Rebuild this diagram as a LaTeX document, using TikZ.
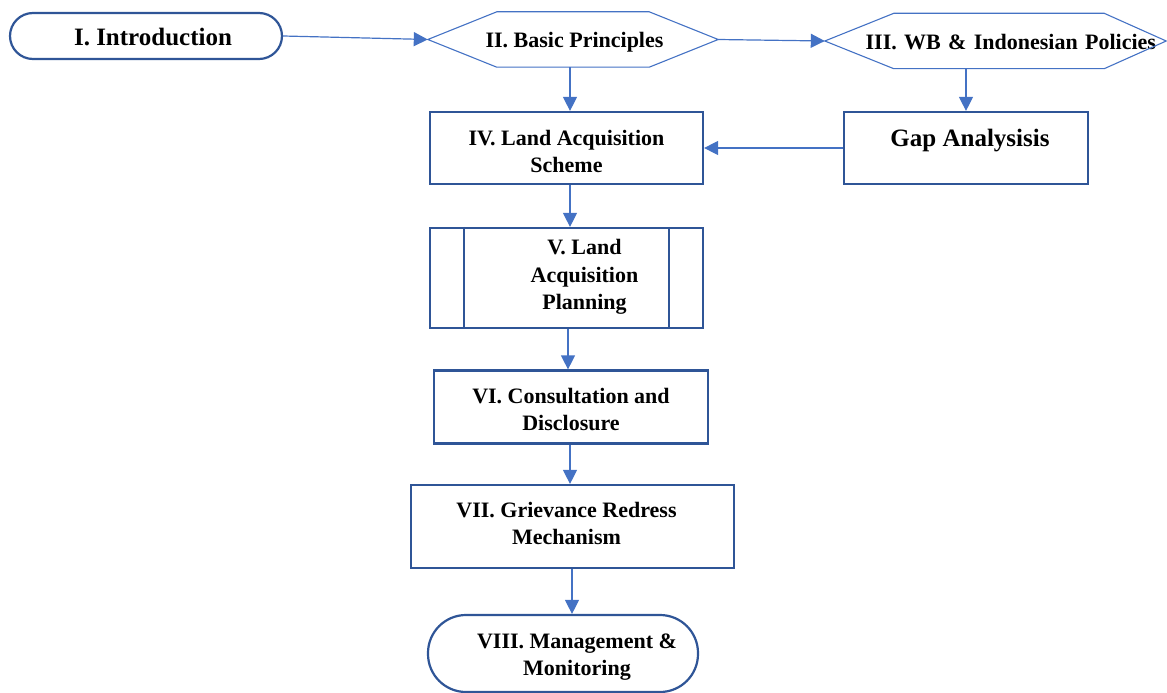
\documentclass[tikz,border=0pt]{standalone}
\usepackage{fontspec}
\setmainfont{Liberation Serif}
\usetikzlibrary{arrows.meta,calc}
\definecolor{boxblue}{HTML}{2F5597}
\definecolor{linkblue}{HTML}{4472C4}
\begin{document}
\begin{tikzpicture}[x=1pt,y=-1pt,
  txt/.style={font=\bfseries\fontsize{22}{27.5}\selectfont,align=center,text=black},
  bigtxt/.style={font=\bfseries\fontsize{25}{30}\selectfont,align=center,text=black},
  box/.style={draw=boxblue,line width=2.2pt,fill=white,rectangle,inner sep=0pt,txt},
  stadium/.style={box,rounded corners=#1},
  hexa/.style={draw=none,inner sep=0pt,minimum height=55pt,txt},
  hexline/.style={draw=linkblue,line width=1.1pt,line join=miter},
  link/.style={draw=linkblue,line width=1.2pt,-{Triangle[length=14pt,width=14pt]}}]
\useasboundingbox (0,0) rectangle (1167,693);

% nodes
\node[stadium=23pt,minimum width=272pt,minimum height=46pt,
  label={[bigtxt,xshift=7pt,yshift=-1pt]center:I. Introduction}] (intro) at (146,36) {};
\node[hexa,minimum width=290pt,
  label={[txt,xshift=1.5pt,yshift=-2.5pt]center:II. Basic Principles}] (bp) at (573,39.5) {};
\node[hexa,minimum width=341pt,text width=321pt,inner xsep=10pt,align=right,yshift=-1pt] (wbt) at (995.5,41) {III. WB \& Indonesian Policies};
\node[hexa,minimum width=341pt] (wb) at (995.5,41) {};
\node[box,minimum width=273pt,minimum height=72pt,
  label={[txt,yshift=-3.5pt]center:IV. Land Acquisition\\Scheme}] (las) at (566.5,148) {};
\node[box,minimum width=244pt,minimum height=72pt,
  label={[bigtxt,xshift=4pt,yshift=7pt]center:Gap Analysisis}] (gap) at (966,148) {};
\node[box,minimum width=273pt,minimum height=100pt,
  label={[txt,xshift=18pt,yshift=1pt]center:V. Land\\Acquisition\\Planning}] (lap) at (566.5,278) {};
\node[box,minimum width=274pt,minimum height=73pt,
  label={[txt,yshift=-2.5pt]center:VI. Consultation and\\Disclosure}] (cd) at (571,407) {};
\node[box,minimum width=323pt,minimum height=83pt,
  label={[txt,xshift=-6pt,yshift=3pt]center:VII. Grievance Redress\\Mechanism}] (grm) at (572.5,526.5) {};
\node[stadium=38pt,minimum width=270pt,minimum height=77pt,
  label={[txt,xshift=14pt,yshift=-3.5pt]center:VIII. Management \&\\Monitoring}] (mm) at (563,653.5) {};

% hexagon outlines
\draw[hexline] (bp.west) -- ($(bp.north west)+(69,0)$) -- ($(bp.north east)+(-69,0)$) -- (bp.east)
  -- ($(bp.south east)+(-69,0)$) -- ($(bp.south west)+(69,0)$) -- cycle;
\draw[hexline] (wb.west) -- ($(wb.north west)+(69,0)$) -- ($(wb.north east)+(-62,0)$) -- (wb.east)
  -- ($(wb.south east)+(-62,0)$) -- ($(wb.south west)+(69,0)$) -- cycle;

% predefined-process side bars
\draw[draw=boxblue,line width=2.2pt] ($(lap.north west)+(35,0)$) -- ($(lap.south west)+(35,0)$);
\draw[draw=boxblue,line width=2.2pt] ($(lap.north east)+(-35,0)$) -- ($(lap.south east)+(-35,0)$);

% connectors
\draw[link] (intro.east) -- (bp.west);
\draw[link] (bp.east) -- (wb.west);
\draw[link] ([xshift=-3pt]bp.south) -- ([xshift=-3pt]bp.south |- las.north);
\draw[link] (gap.north |- wb.south) -- (gap.north);
\draw[link] (gap.west) -- (las.east);
\draw[link] ([xshift=3.5pt]las.south) -- ([xshift=3.5pt]las.south |- lap.north);
\draw[link] ([xshift=1.5pt]lap.south) -- ([xshift=1.5pt]lap.south |- cd.north);
\draw[link] ([xshift=-1pt]cd.south) -- ([xshift=-1pt]cd.south |- grm.north);
\draw[link] ([xshift=-0.5pt]grm.south) -- ([xshift=-0.5pt]grm.south |- mm.north);
\end{tikzpicture}
\end{document}
